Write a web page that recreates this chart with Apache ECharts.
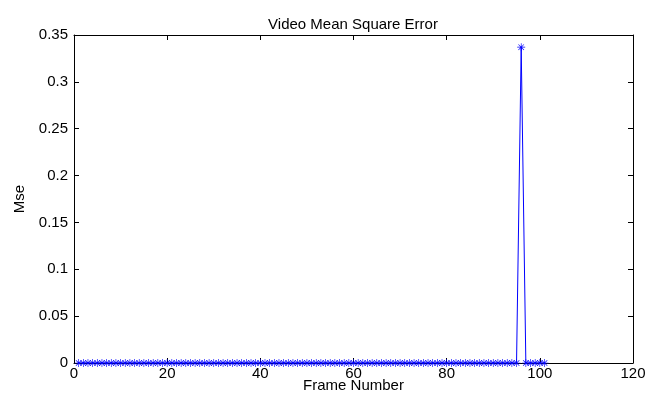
<!DOCTYPE html>
<html>
<head>
<meta charset="utf-8">
<script src="https://cdn.jsdelivr.net/npm/echarts@6/dist/echarts.min.js"></script>
<style>
  html, body { margin: 0; padding: 0; background: #fff; }
  #chart { width: 647px; height: 396px; }
</style>
</head>
<body>
<div id="chart"></div>
<script>
// frame numbers 1..101, mse is zero everywhere except one spike
const frames = [
  1, 2, 3, 4, 5, 6, 7, 8, 9, 10, 11, 12, 13, 14, 15, 16, 17, 18, 19, 20,
  21, 22, 23, 24, 25, 26, 27, 28, 29, 30, 31, 32, 33, 34, 35, 36, 37, 38, 39, 40,
  41, 42, 43, 44, 45, 46, 47, 48, 49, 50, 51, 52, 53, 54, 55, 56, 57, 58, 59, 60,
  61, 62, 63, 64, 65, 66, 67, 68, 69, 70, 71, 72, 73, 74, 75, 76, 77, 78, 79, 80,
  81, 82, 83, 84, 85, 86, 87, 88, 89, 90, 91, 92, 93, 94, 95, 96, 97, 98, 99, 100, 101
];
const mse = [
  0, 0, 0, 0, 0, 0, 0, 0, 0, 0, 0, 0, 0, 0, 0, 0, 0, 0, 0, 0,
  0, 0, 0, 0, 0, 0, 0, 0, 0, 0, 0, 0, 0, 0, 0, 0, 0, 0, 0, 0,
  0, 0, 0, 0, 0, 0, 0, 0, 0, 0, 0, 0, 0, 0, 0, 0, 0, 0, 0, 0,
  0, 0, 0, 0, 0, 0, 0, 0, 0, 0, 0, 0, 0, 0, 0, 0, 0, 0, 0, 0,
  0, 0, 0, 0, 0, 0, 0, 0, 0, 0, 0, 0, 0, 0, 0, 0.337, 0, 0, 0, 0, 0
];

const font = "'Liberation Sans', Arial, sans-serif";
const fontSize = 15;

/** asterisk marker like matlab '*' */
const star = "path://M4.6,0H5.4V10H4.6Z M0,4.6H10V5.4H0Z " +
  "M1.2,1.8L1.8,1.2L8.8,8.2L8.2,8.8Z M8.2,1.2L8.8,1.8L1.8,8.8L1.2,8.2Z";

const axisCommon = {
  axisLine: { show: true, onZero: false, lineStyle: { color: "#000", width: 1 } },
  axisTick: { show: true, inside: true, length: 5, lineStyle: { color: "#000" } },
  splitLine: { show: false },
};

const textStyle = { color: "#000", fontFamily: font, fontSize };

const chart = echarts.init(document.getElementById("chart"), null, { renderer: "canvas" });

chart.setOption({
  animation: false,
  backgroundColor: "#fff",
  title: {
    text: "Video Mean Square Error",
    left: 348,
    top: 12,
    textAlign: "center",
    textStyle: { ...textStyle, fontWeight: "normal" },
  },
  grid: { left: 74, right: 14, top: 35, bottom: 33, outerBoundsMode: "none", containLabel: false },
  xAxis: [
    {
      type: "value",
      min: 0,
      max: 120,
      interval: 20,
      ...axisCommon,
      axisLabel: { ...textStyle, margin: 3 },
      name: "Frame Number",
      nameLocation: "middle",
      nameGap: 15,
      nameMoveOverlap: false,
      nameTextStyle: textStyle,
    },
    {
      type: "value",
      position: "top",
      min: 0,
      max: 120,
      interval: 20,
      ...axisCommon,
      axisLabel: { show: false },
    },
  ],
  yAxis: [
    {
      type: "value",
      min: 0,
      max: 0.35,
      interval: 0.05,
      ...axisCommon,
      axisLabel: {
        ...textStyle,
        margin: 6,
        formatter: (v) => String(Math.round(v * 100) / 100),
      },
      name: "Mse",
      nameLocation: "middle",
      nameGap: 47,
      nameRotate: 90,
      nameMoveOverlap: false,
      nameTextStyle: textStyle,
    },
    {
      type: "value",
      position: "right",
      min: 0,
      max: 0.35,
      interval: 0.05,
      ...axisCommon,
      axisLabel: { show: false },
    },
  ],
  series: [
    {
      type: "line",
      data: frames.map((f, i) => [f, mse[i]]),
      symbol: star,
      symbolSize: 8,
      showAllSymbol: true,
      lineStyle: { color: "#0000ff", width: 1 },
      itemStyle: { color: "#0000ff" },
    },
  ],
});
</script>
</body>
</html>
